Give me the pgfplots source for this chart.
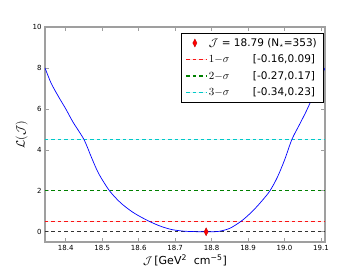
\documentclass[border=0pt]{standalone}
\usepackage{pgfplots}
\pgfplotsset{compat=1.18}
\usepackage{fontspec}
\setmainfont{DejaVu Sans}
\definecolor{myred}{RGB}{250,20,20}
\definecolor{mygreen}{RGB}{0,128,0}
\definecolor{mycyan}{RGB}{0,200,200}
\pgfplotsset{longleg/.style={legend image code/.code={\draw[##1] (0pt,0pt) -- (20pt,0pt);}}}
\begin{document}
\begin{tikzpicture}[x=1pt,y=1pt]
\path[use as bounding box] (0,0) rectangle (360,270);
\begin{axis}[
  at={(45pt,28pt)}, anchor=south west,
  scale only axis, width=280pt, height=215pt,
  xmin=18.343, xmax=19.111, ymin=-0.5, ymax=10,
  xtick={18.4,18.5,18.6,18.7,18.8,18.9,19.0,19.1},
  ytick={0,2,4,6,8,10},
  xticklabel style={/pgf/number format/fixed,/pgf/number format/precision=1,/pgf/number format/fixed zerofill},
  /pgf/number format/assume math mode=true,
  tick align=inside, major tick length=4pt,
  axis line style={gray!75, line width=1.6pt},
  tick style={gray!75, line width=0.7pt},
  tick label style={font=\fontsize{7}{8}\selectfont},
  xlabel={$\mathcal{J}$\,[GeV\textsuperscript{2}\ \ cm\textsuperscript{−5}]},
  ylabel={$\mathcal{L}(\mathcal{J})$},
  xlabel style={font=\fontsize{11}{12}\selectfont, yshift=3pt},
  ylabel style={font=\fontsize{12}{13}\selectfont, yshift=-2pt},
  legend style={at={(0.993,0.972)}, anchor=north east, draw=black, line width=0.5pt,
    font=\fontsize{10.5}{12}\selectfont, row sep=3pt, inner xsep=4pt, inner ysep=3pt,
    /tikz/every even column/.append style={column sep=6pt}},
  legend cell align=left,
  clip=true,
]
\addlegendimage{only marks, mark=diamond*, mark size=4pt, mark options={xscale=0.7, fill=red, draw=red!70!black, line width=0.3pt}}
\addlegendentry{$\mathcal{J}$ = 18.79 (N$_\star$=353)}
\addplot[draw=myred, fill=myred, line width=1.3pt, dash pattern=on 3.5pt off 3pt, longleg] coordinates {(18.343,0.5) (19.111,0.5)};
\addlegendentry{\makebox[44pt][l]{$1{-}\sigma$}[-0.16,0.09]}
\addplot[mygreen, line width=1.2pt, dash pattern=on 3.5pt off 3pt, longleg] coordinates {(18.343,2) (19.111,2)};
\addlegendentry{\makebox[44pt][l]{$2{-}\sigma$}[-0.27,0.17]}
\addplot[draw=mycyan, fill=mycyan, line width=1.3pt, dash pattern=on 3.5pt off 3pt, longleg] coordinates {(18.343,4.5) (19.111,4.5)};
\addlegendentry{\makebox[44pt][l]{$3{-}\sigma$}[-0.34,0.23]}
\addplot[black!80, line width=0.9pt, dash pattern=on 3.5pt off 3pt, forget plot] coordinates {(18.343,0) (19.111,0)};
\addplot[blue, line width=0.7pt, smooth, tension=0.5, forget plot] coordinates {
(18.343,8.0) (18.36,7.25) (18.38,6.6) (18.40,6.0) (18.42,5.35) (18.45,4.5) (18.47,3.65) (18.49,2.85) (18.52,2.0)
(18.55,1.42) (18.58,1.0) (18.60,0.78) (18.63,0.5) (18.66,0.27) (18.69,0.11) (18.72,0.035) (18.75,0.008)
(18.79,0.0) (18.82,0.02) (18.85,0.17) (18.88,0.5) (18.90,0.8) (18.92,1.15) (18.94,1.55) (18.96,2.0) (18.98,2.65) (19.00,3.5)
(19.02,4.5) (19.04,5.2) (19.06,5.9) (19.08,6.7) (19.10,7.55) (19.111,8.0)
};
\addplot[only marks, mark=diamond*, mark size=4pt, mark options={xscale=0.7, fill=red, draw=red!70!black, line width=0.3pt}, forget plot] coordinates {(18.785,0)};
\end{axis}
\end{tikzpicture}
\end{document}
